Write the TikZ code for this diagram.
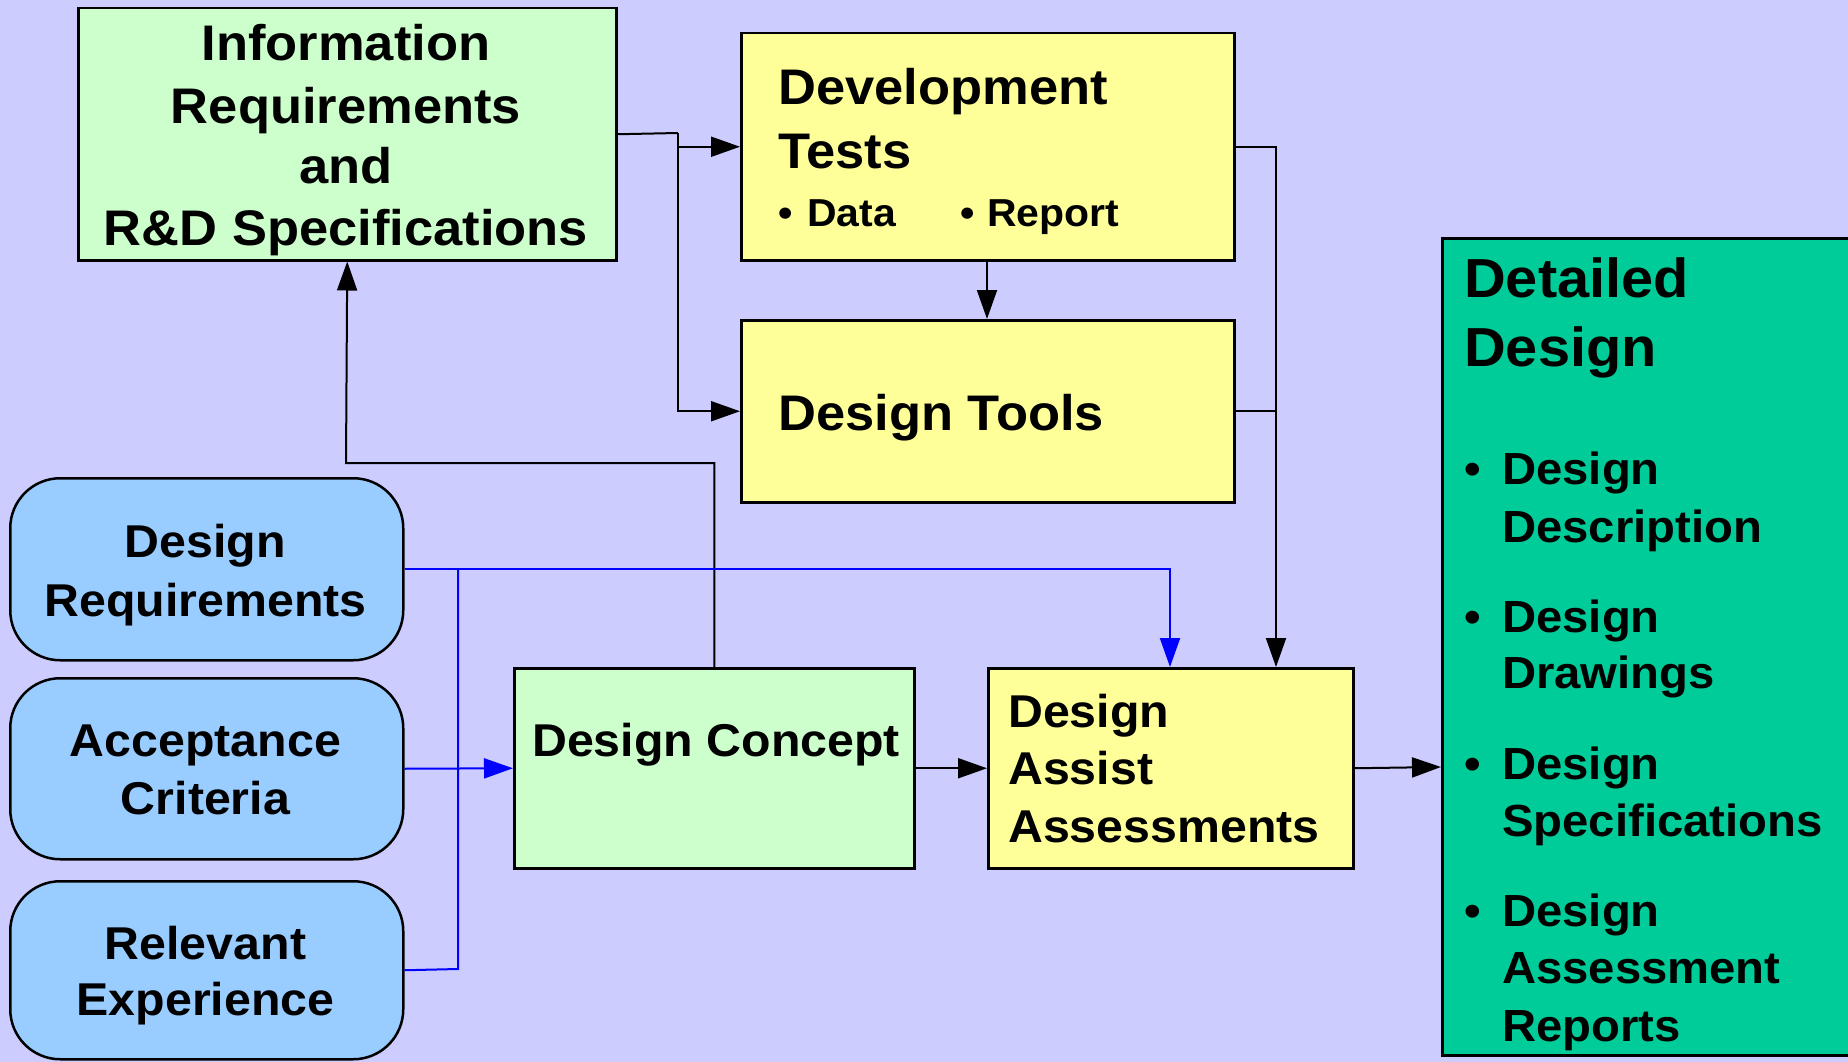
\documentclass[tikz,border=0pt]{standalone}
\usepackage{fontspec}
\setmainfont{Liberation Sans}[FakeStretch=1.05]
\usetikzlibrary{arrows.meta}
\definecolor{bg}{HTML}{CCCCFF}
\definecolor{lgreen}{HTML}{CCFFCC}
\definecolor{lyellow}{HTML}{FFFF99}
\definecolor{rblue}{HTML}{99CCFF}
\definecolor{dgreen}{HTML}{00CC99}
\definecolor{lineblue}{HTML}{0000FF}
\tikzset{
  box/.style={draw=black, line width=2.5pt, inner sep=0pt, anchor=north west},
  rbox/.style={box, rounded corners=50pt, fill=rblue},
  conn/.style={draw=black, line width=2pt},
  arr/.style={conn, -{Triangle[length=29pt,width=20pt]}},
  bconn/.style={draw=lineblue, line width=2pt},
  barr/.style={bconn, -{Triangle[length=29pt,width=20pt]}},
  tc/.style={inner sep=0pt, anchor=base},
  tl/.style={inner sep=0pt, anchor=base west},
  fA/.style={font=\fontsize{50}{60}\selectfont\bfseries},
  fB/.style={font=\fontsize{46}{56}\selectfont\bfseries},
  fC/.style={font=\fontsize{55}{66}\selectfont\bfseries},
  fD/.style={font=\fontsize{45}{54}\selectfont\bfseries},
  fE/.style={font=\fontsize{39}{47}\selectfont\bfseries},
}
\begin{document}
\begin{tikzpicture}[x=1pt,y=-1pt]
\useasboundingbox (0,0) rectangle (1848,1062);
\clip (0,0) rectangle (1848,1062);
\fill[bg] (0,0) rectangle (1848,1062);

% boxes
\node[box, fill=lgreen, minimum width=538pt, minimum height=252pt] (info) at (77,7) {};
\node[box, fill=lyellow, minimum width=493pt, minimum height=227pt] (dev) at (740,32) {};
\node[box, fill=lyellow, minimum width=493pt, minimum height=182pt] (tools) at (740,319) {};
\node[rbox, minimum width=393pt, minimum height=182pt] (dr) at (9,477) {};
\node[rbox, minimum width=393pt, minimum height=181pt] (ac) at (9,677) {};
\node[rbox, minimum width=393pt, minimum height=178pt] (re) at (9,880) {};
\node[box, fill=lgreen, minimum width=400pt, minimum height=200pt] (concept) at (513,667) {};
\node[box, fill=lyellow, minimum width=365pt, minimum height=200pt] (daa) at (987,667) {};
\node[box, fill=dgreen, minimum width=450pt, minimum height=817pt] (dd) at (1441,237) {};

% texts
\node[tc, fA] (i1) at (346,61) {Information};
\node[tc, fA] (i2) at (346,124) {Requirements};
\node[tc, fA] (i3) at (346,183) {and};
\node[tc, fA] (i4) at (346,245) {R\&D Specifications};

\node[tl, fA] (d1) at (778,105) {Development};
\node[tl, fA] (d2) at (778,168) {Tests};
\node[tl, fE] (d3) at (778,226) {•};
\node[tl, fE] (d4) at (807,226) {Data};
\node[tl, fE] (d5) at (960,226) {•};
\node[tl, fE] (d6) at (987,226) {Report};

\node[tl, fA] (t1) at (778,430) {Design Tools};

\node[tc, fB] (r1) at (205.5,557) {Design};
\node[tc, fB] (r2) at (205.5,616) {Requirements};
\node[tc, fB] (a1) at (205.5,756) {Acceptance};
\node[tc, fB] (a2) at (205.5,814) {Criteria};
\node[tc, fB] (e1) at (205.5,959) {Relevant};
\node[tc, fB] (e2) at (205.5,1015) {Experience};

\node[tl, fB] (c1) at (532,756) {Design Concept};

\node[tl, fB] (s1) at (1008,727) {Design};
\node[tl, fB] (s2) at (1008,784) {Assist};
\node[tl, fB] (s3) at (1008,842) {Assessments};

\node[tl, fC] (g1) at (1464,297) {Detailed};
\node[tl, fC] (g2) at (1464,366) {Design};
\node[tl, fD] (b1) at (1464,484) {•};
\node[tl, fD] (g3) at (1502,484) {Design};
\node[tl, fD] (g4) at (1502,542) {Description};
\node[tl, fD] (b2) at (1464,632) {•};
\node[tl, fD] (g5) at (1502,632) {Design};
\node[tl, fD] (g6) at (1502,688) {Drawings};
\node[tl, fD] (b3) at (1464,779) {•};
\node[tl, fD] (g7) at (1502,779) {Design};
\node[tl, fD] (g8) at (1502,836) {Specifications};
\node[tl, fD] (b4) at (1464,926) {•};
\node[tl, fD] (g9) at (1502,926) {Design};
\node[tl, fD] (g10) at (1502,983) {Assessment};
\node[tl, fD] (g11) at (1502,1041) {Reports};

% junction coordinates
\coordinate (j1) at (678,133);
\coordinate (j2) at (1276,667);
\coordinate (j3) at (346,463);
\coordinate (j4) at (1170,667);
\coordinate (j5) at (458,568);
\coordinate (j6) at (458,969);
\coordinate (j7) at (1441,767);

% black connectors
\draw[conn] (info.east) -- (j1);
\draw[arr] (j1) |- (dev.west);
\draw[arr] (j1) |- (tools.west);
\draw[arr] (dev.south -| 987,0) -- (tools.north -| 987,0);
\draw[arr] (dev.east) -| (j2);
\draw[conn] (tools.east) -- (tools.east -| j2);
\draw[arr] (concept.north) |- (j3) -- (info.south);
\draw[arr] (concept.east) -- (daa.west);
\draw[arr] (daa.east) -- (j7);

% blue connectors
\draw[barr] (dr.east) -| (j4);
\draw[bconn] (j5) -- (j6) -- (re.east);
\draw[barr] (ac.east) -- (concept.west);
\end{tikzpicture}
\end{document}
